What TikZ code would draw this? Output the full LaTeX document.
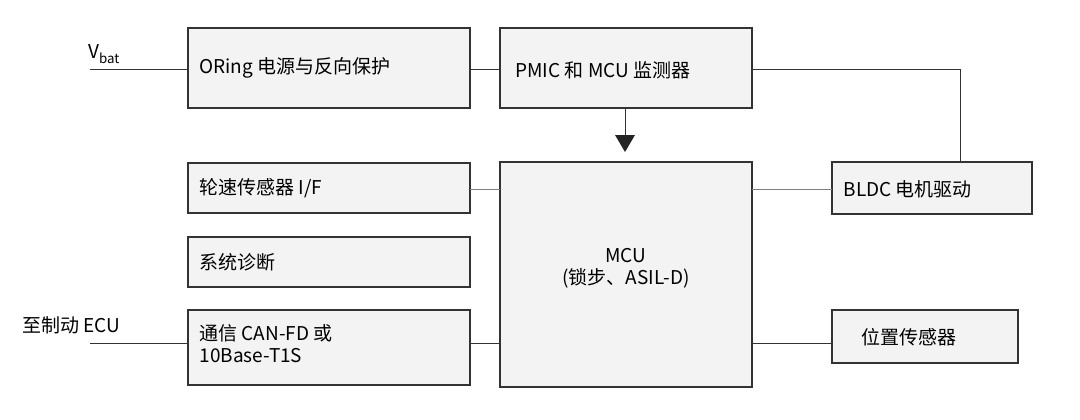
\documentclass[tikz,border=0pt]{standalone}
\usepackage{fontspec}
\setmainfont{Noto Sans CJK SC}
\usetikzlibrary{arrows.meta}
\definecolor{boxfill}{HTML}{F3F3F3}
\definecolor{edge}{HTML}{333333}
\begin{document}
\begin{tikzpicture}[x=1pt,y=-1pt,
  blk/.style={draw=edge,line width=1.2pt,fill=boxfill,inner sep=0pt},
  lbl/.style={font=\fontsize{19}{22}\selectfont,anchor=west,align=left},
  wire/.style={draw=edge,line width=1pt}]
\useasboundingbox (0,0) rectangle (1080,420);
\draw[blk] (188,28) rectangle (470,108);
\node[lbl] (oring) at (196,68) {ORing 电源与反向保护};
\draw[blk] (500,28) rectangle (752,108);
\node[lbl] (pmic) at (512,70) {PMIC 和 MCU 监测器};
\draw[blk] (188,163) rectangle (470,213);
\node[lbl] (wheel) at (196,188) {轮速传感器 I/F};
\draw[blk] (188,237) rectangle (470,287);
\node[lbl] (diag) at (196,262) {系统诊断};
\draw[blk] (188,310) rectangle (470,385);
\node[lbl] (comm) at (196,344) {通信 CAN-FD 或\\10Base-T1S};
\draw[blk] (500,162) rectangle (752,387);
\node[font=\fontsize{19}{22}\selectfont,align=center] (mcu) at (626,268) {MCU\\(锁步、ASIL-D)};
\draw[blk] (832,162) rectangle (1032,214);
\node[lbl] (bldc) at (840,189) {BLDC 电机驱动};
\draw[blk] (832,310) rectangle (1018,363);
\node[lbl] (pos) at (858,337) {位置传感器};
\node[font=\fontsize{19}{22}\selectfont,anchor=south west,inner sep=0pt] (vbat) at (88,64) {V\textsubscript{bat}};
\node[font=\fontsize{19}{22}\selectfont,anchor=south west,inner sep=0pt] (ecu) at (22,334) {至制动 ECU};
\coordinate (v0) at (90,70); \coordinate (e0) at (90,343);
\draw[wire] (v0) -- (188,70);
\draw[wire] (470,70) -- (500,70);
\draw[wire] (752,70) -- (960,70) -- (960,162);
\draw[wire] (625,108) -- (625,136);
\fill[edge!70!black] (615,135) -- (635,135) -- (625,152) -- cycle;
\draw[wire,draw=gray] (470,189) -- (500,189);
\draw[wire,draw=gray] (752,189) -- (832,189);
\draw[wire] (e0) -- (188,343);
\draw[wire] (470,343) -- (500,343);
\draw[wire] (752,343) -- (832,343);
\end{tikzpicture}
\end{document}
